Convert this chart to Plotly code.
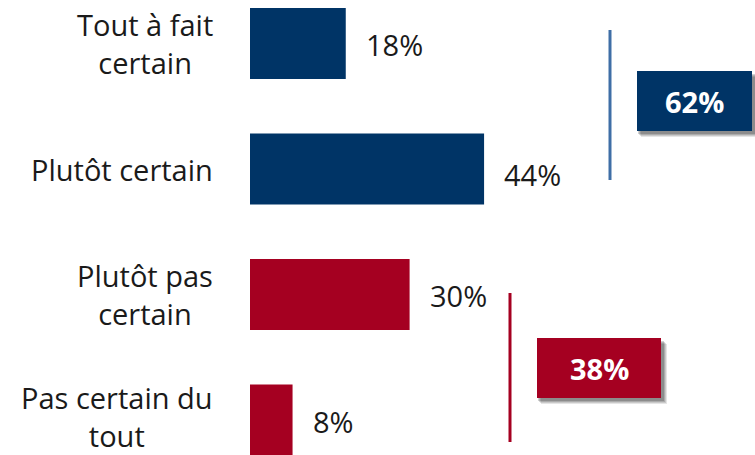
import plotly.graph_objects as go

categories = ["Tout à fait<br>certain", "Plutôt certain", "Plutôt pas<br>certain", "Pas certain du<br>tout"]
values = [18, 44, 30, 8]
value_labels = ["18%", "44%", "30%", "8%"]
groups = [[0, 1], [2, 3]]

BLUE = "#003466"
RED = "#a50021"
LINE_BLUE = "#3f6ea6"
colors = [BLUE, BLUE, RED, RED]

W, H = 755, 455
L = 250
XMAX = 505 / 5.32

def px_x(p):
    return (p - L) / (W - L)

def px_y(p):
    return 1 - p / H

ypos = list(range(len(categories)))

fig = go.Figure()
fig.add_trace(go.Bar(
    x=values, y=ypos, orientation="h",
    marker=dict(color=colors, line=dict(width=0)),
    width=0.566, hoverinfo="skip",
))

FONT = "Open Sans, DejaVu Sans, sans-serif"
ann = []
label_shifts = [0, 0, 0, 4]
for i, c in enumerate(categories):
    ann.append(dict(x=0, xref="paper", y=i, yref="y", text=c, showarrow=False,
                    xanchor="right", yanchor="middle", align="center", xshift=-35,
                    yshift=label_shifts[i],
                    font=dict(family=FONT, size=29, color="#1a1a1a")))
yshifts = [-1, -5, -1, -1]
for i, (v, t) in enumerate(zip(values, value_labels)):
    ann.append(dict(x=v, xref="x", y=i, yref="y", text=t, showarrow=False,
                    xanchor="left", yanchor="middle", xshift=18, yshift=yshifts[i],
                    font=dict(family=FONT, size=29, color="#1a1a1a")))

# bracket lines and summary boxes
brackets = [
    dict(line_x=610, y0=30, y1=180, lc=LINE_BLUE, box=(637, 71, 752, 131), bc=BLUE),
    dict(line_x=510, y0=293, y1=442, lc=RED, box=(537, 338, 661, 398), bc=RED),
]
shapes = []
for g, b in zip(groups, brackets):
    shapes.append(dict(type="line", xref="paper", yref="paper",
                       x0=px_x(b["line_x"]), x1=px_x(b["line_x"]),
                       y0=px_y(b["y0"]), y1=px_y(b["y1"]),
                       line=dict(color=b["lc"], width=3)))
    x0, y0, x1, y1 = b["box"]
    for off, op in [(6, 0.10), (5, 0.12), (4, 0.15), (3, 0.18)]:
        shapes.append(dict(type="rect", xref="paper", yref="paper",
                           x0=px_x(x0 - 2 + off), x1=px_x(x1 + off),
                           y0=px_y(y0 + off), y1=px_y(y1 + off),
                           fillcolor="rgba(0,0,0,%s)" % op, line=dict(width=0), layer="above"))
    shapes.append(dict(type="rect", xref="paper", yref="paper",
                       x0=px_x(x0), x1=px_x(x1), y0=px_y(y0), y1=px_y(y1),
                       fillcolor=b["bc"], line=dict(width=0), layer="above"))
    total = sum(values[i] for i in g)
    ann.append(dict(x=px_x((x0 + x1) / 2), y=px_y((y0 + y1) / 2), xref="paper", yref="paper",
                    text="<b>%d%%</b>" % total, showarrow=False, xanchor="center", yanchor="middle",
                    font=dict(family="Open Sans, sans-serif", size=29, color="white")))

fig.update_layout(
    width=W, height=H,
    margin=dict(l=L, r=0, t=0, b=0),
    paper_bgcolor="white", plot_bgcolor="white",
    showlegend=False,
    xaxis=dict(range=[0, XMAX], visible=False, fixedrange=True),
    yaxis=dict(range=[(455 - 43.5) / 125.5, -43.5 / 125.5], visible=False, fixedrange=True),
    annotations=ann, shapes=shapes,
)

fig.write_html("out.html", config={"displayModeBar": False},
               post_script="document.body.style.margin='0';document.body.style.overflow='hidden';")
